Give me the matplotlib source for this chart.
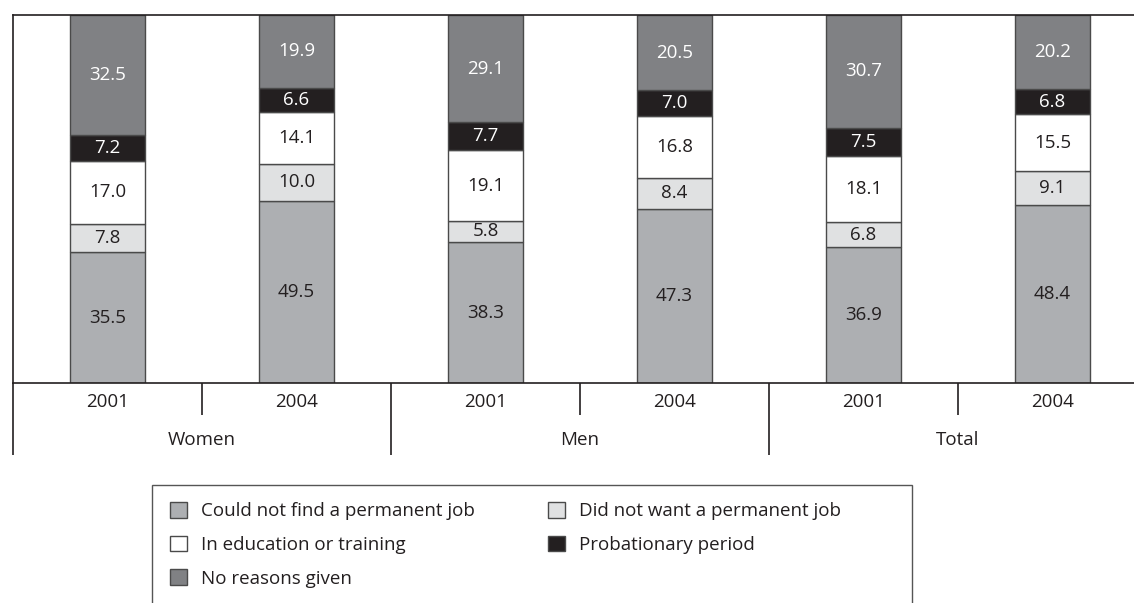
import matplotlib.pyplot as plt
import numpy as np
from matplotlib.patches import Patch, Rectangle

plt.rcParams['font.family'] = ['Open Sans', 'DejaVu Sans']

# categories
years = ["2001", "2004", "2001", "2004", "2001", "2004"]
groups = ["Women", "Men", "Total"]

# series values (bottom -> top), one value per bar
could_not_find = [35.5, 49.5, 38.3, 47.3, 36.9, 48.4]
did_not_want = [7.8, 10.0, 5.8, 8.4, 6.8, 9.1]
education = [17.0, 14.1, 19.1, 16.8, 18.1, 15.5]
probationary = [7.2, 6.6, 7.7, 7.0, 7.5, 6.8]
no_reasons = [32.5, 19.9, 29.1, 20.5, 30.7, 20.2]

series = [
    ("Could not find a permanent job", could_not_find, "#adafb2", "#231f20"),
    ("Did not want a permanent job", did_not_want, "#e0e1e2", "#231f20"),
    ("In education or training", education, "#ffffff", "#231f20"),
    ("Probationary period", probationary, "#231f20", "#ffffff"),
    ("No reasons given", no_reasons, "#808184", "#ffffff"),
]

dark = "#231f20"
edge = "#4a4a4a"
fs = 13.5

fig = plt.figure(figsize=(11.34, 6.03), dpi=100)
ax = fig.add_axes([13 / 1134, 1 - 383 / 603, 1 - 13 / 1134, 368 / 603])

x = np.arange(len(years))
bottom = np.zeros(len(years))
handles = {}
for name, vals, color, tcolor in series:
    vals = np.array(vals)
    bars = ax.bar(x, vals, width=0.4, bottom=bottom, color=color,
                  edgecolor=edge, linewidth=1.0)
    for b, v, y0 in zip(bars, vals, bottom):
        ax.text(b.get_x() + b.get_width() / 2, y0 + v / 2, f"{v:.1f}",
                ha="center", va="center", color=tcolor, fontsize=fs)
    bottom += vals
    handles[name] = Patch(facecolor=color, edgecolor=edge, linewidth=1.0)

ax.set_ylim(0, 100)
ax.set_xlim(-0.5, -0.5 + 1121 / 189)
ax.set_yticks([])
ax.set_xticks(x)
ax.set_xticklabels(years, fontsize=fs, color=dark)
ax.tick_params(axis="x", length=0, pad=7)
for s in ["left", "top", "bottom"]:
    ax.spines[s].set_color(dark)
    ax.spines[s].set_linewidth(1.2)
ax.spines["right"].set_visible(False)

# group separators below the axis
trans = ax.get_xaxis_transform()
ax.vlines([-0.5, 1.5, 3.5], 0, -72 / 368, transform=trans, color=dark,
          linewidth=1.2, clip_on=False)
ax.vlines([0.5, 2.5, 4.5], 0, -32 / 368, transform=trans, color=dark,
          linewidth=1.2, clip_on=False)
for i, g in enumerate(groups):
    ax.text(2 * i + 0.5, -57 / 368, g, transform=trans, ha="center",
            va="center", fontsize=fs, color=dark)

# legend box (bottom edge runs off the figure)
fig.add_artist(Rectangle((152 / 1134, -0.1), (912 - 152) / 1134,
                         (603 - 485) / 603 + 0.1, transform=fig.transFigure,
                         facecolor="none", edgecolor="#555555", linewidth=1.0))

order = ["Could not find a permanent job", "In education or training",
         "No reasons given", "Did not want a permanent job",
         "Probationary period"]
leg = fig.legend([handles[n] for n in order], order, ncol=2,
                 loc="upper left", bbox_to_anchor=(170 / 1134, 1 - 502 / 603),
                 fontsize=fs, frameon=False, handlelength=0.9,
                 handleheight=0.9, handletextpad=0.75, labelspacing=0.82,
                 columnspacing=3.9, borderpad=0, borderaxespad=0)
for t in leg.get_texts():
    t.set_color(dark)

fig.savefig("out.png", dpi=100)
